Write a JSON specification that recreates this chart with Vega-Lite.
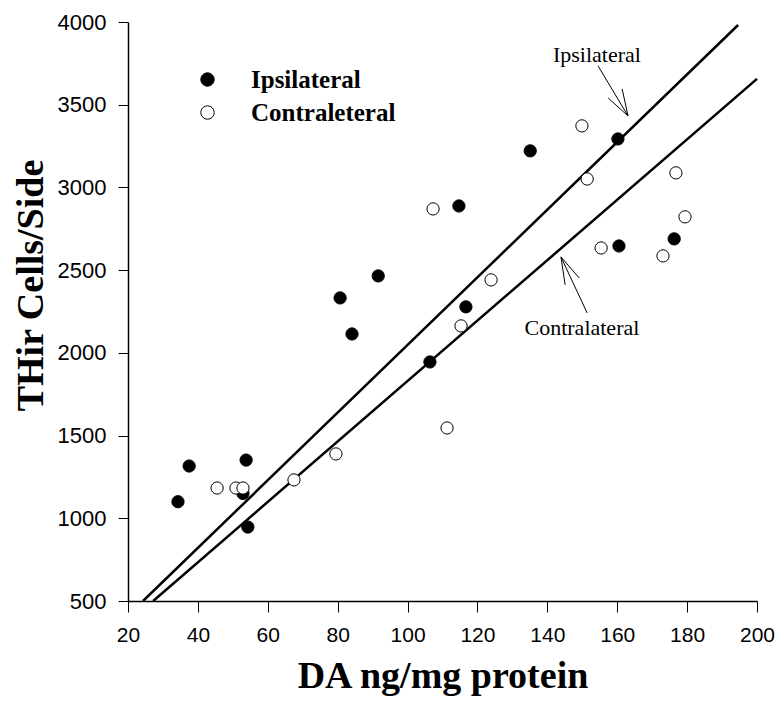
{
  "$schema": "https://vega.github.io/schema/vega-lite/v6.json",
  "width": 629,
  "height": 579,
  "autosize": {"type": "none"},
  "padding": {"left": 128, "top": 22, "right": 19, "bottom": 104},
  "background": "white",
  "config": {
    "view": {"stroke": null},
    "axis": {
      "domainColor": "black",
      "domainWidth": 1.5,
      "tickColor": "black",
      "tickWidth": 1,
      "labelColor": "black",
      "titleColor": "black",
      "grid": false,
      "labelFont": "Liberation Sans",
      "titleFont": "Liberation Serif",
      "titleFontWeight": "bold",
      "titleFontSize": 38
    }
  },
  "encoding": {
    "x": {
      "field": "x",
      "type": "quantitative",
      "title": "DA ng/mg protein",
      "scale": {"domain": [20, 200], "nice": false, "zero": false},
      "axis": {
        "values": [20, 40, 60, 80, 100, 120, 140, 160, 180, 200],
        "format": "d",
        "tickSize": 11,
        "labelPadding": 12,
        "labelFontSize": 21,
        "labelFlush": false,
        "titleX": 314.5,
        "titleY": 86,
        "titleBaseline": "alphabetic",
        "titleAnchor": "middle"
      }
    },
    "y": {
      "field": "y",
      "type": "quantitative",
      "title": "THir Cells/Side",
      "scale": {"domain": [500, 4000], "nice": false, "zero": false},
      "axis": {
        "values": [500, 1000, 1500, 2000, 2500, 3000, 3500, 4000],
        "format": "d",
        "tickSize": 10,
        "labelPadding": 12,
        "labelFontSize": 22,
        "labelFlush": false,
        "titleX": -86,
        "titleY": 263,
        "titleAngle": 270,
        "titleBaseline": "alphabetic",
        "titleAnchor": "middle",
        "titleAlign": "center"
      }
    }
  },
  "layer": [
    {
      "data": {
        "values": [
          {"series": "Ipsilateral", "x": 24.3, "y": 500},
          {"series": "Ipsilateral", "x": 194.6, "y": 3982},
          {"series": "Contralateral", "x": 27.2, "y": 500},
          {"series": "Contralateral", "x": 200, "y": 3656}
        ]
      },
      "mark": {"type": "line", "color": "black", "strokeWidth": 2.5},
      "encoding": {"detail": {"field": "series"}}
    },
    {
      "data": {
        "values": [
          {"x": 154.5, "y": 3735, "x2": 163.1, "y2": 3432},
          {"x": 163.1, "y": 3432, "x2": 157.4, "y2": 3541},
          {"x": 163.1, "y": 3432, "x2": 161.4, "y2": 3596},
          {"x": 151.4, "y": 2241, "x2": 143.9, "y2": 2580},
          {"x": 143.9, "y": 2580, "x2": 149.1, "y2": 2453},
          {"x": 143.9, "y": 2580, "x2": 145.1, "y2": 2411}
        ]
      },
      "mark": {"type": "rule", "color": "black", "strokeWidth": 1},
      "encoding": {
        "x2": {"field": "x2"},
        "y2": {"field": "y2"}
      }
    },
    {
      "data": {
        "values": [
          {"x": 154.2, "y": 3759, "label": "Ipsilateral"},
          {"x": 149.9, "y": 2108, "label": "Contralateral"}
        ]
      },
      "mark": {"type": "text", "font": "Liberation Serif", "fontSize": 22, "align": "center", "baseline": "alphabetic", "color": "black"},
      "encoding": {"text": {"field": "label"}}
    },
    {
      "data": {
        "values": [
          {"side": "Ipsilateral", "x": 34.3, "y": 1100},
          {"side": "Ipsilateral", "x": 37.5, "y": 1316},
          {"side": "Ipsilateral", "x": 53.8, "y": 1352},
          {"side": "Ipsilateral", "x": 52.9, "y": 1150},
          {"side": "Ipsilateral", "x": 54.3, "y": 947},
          {"side": "Ipsilateral", "x": 80.7, "y": 2332},
          {"side": "Ipsilateral", "x": 84.1, "y": 2114},
          {"side": "Ipsilateral", "x": 91.6, "y": 2465},
          {"side": "Ipsilateral", "x": 106.4, "y": 1945},
          {"side": "Ipsilateral", "x": 116.7, "y": 2278},
          {"side": "Ipsilateral", "x": 114.7, "y": 2888},
          {"side": "Ipsilateral", "x": 135.1, "y": 3221},
          {"side": "Ipsilateral", "x": 160.2, "y": 3293},
          {"side": "Ipsilateral", "x": 160.5, "y": 2646},
          {"side": "Ipsilateral", "x": 176.3, "y": 2689},
          {"side": "Contraleteral", "x": 45.5, "y": 1183},
          {"side": "Contraleteral", "x": 50.9, "y": 1183},
          {"side": "Contraleteral", "x": 52.9, "y": 1183},
          {"side": "Contraleteral", "x": 67.5, "y": 1232},
          {"side": "Contraleteral", "x": 79.5, "y": 1389},
          {"side": "Contraleteral", "x": 111.3, "y": 1546},
          {"side": "Contraleteral", "x": 115.3, "y": 2163},
          {"side": "Contraleteral", "x": 123.9, "y": 2441},
          {"side": "Contraleteral", "x": 107.3, "y": 2870},
          {"side": "Contraleteral", "x": 149.9, "y": 3372},
          {"side": "Contraleteral", "x": 151.4, "y": 3051},
          {"side": "Contraleteral", "x": 155.4, "y": 2634},
          {"side": "Contraleteral", "x": 176.8, "y": 3088},
          {"side": "Contraleteral", "x": 179.4, "y": 2822},
          {"side": "Contraleteral", "x": 173.1, "y": 2586}
        ]
      },
      "mark": {"type": "point", "shape": "circle", "filled": true, "size": 150, "stroke": "black", "strokeWidth": 1, "opacity": 1},
      "encoding": {
        "fill": {
          "field": "side",
          "type": "nominal",
          "scale": {"domain": ["Ipsilateral", "Contraleteral"], "range": ["black", "white"]},
          "legend": {
            "orient": "none",
            "legendX": 67,
            "legendY": 45,
            "title": null,
            "padding": 0,
            "symbolType": "circle",
            "symbolSize": 180,
            "symbolStrokeColor": "black",
            "symbolStrokeWidth": 1,
            "symbolOpacity": 1,
            "labelFont": "Liberation Serif",
            "labelFontWeight": "bold",
            "labelFontSize": 25,
            "labelColor": "black",
            "labelOffset": 31,
            "rowPadding": 7,
            "labelLimit": 400
          }
        }
      }
    }
  ]
}
